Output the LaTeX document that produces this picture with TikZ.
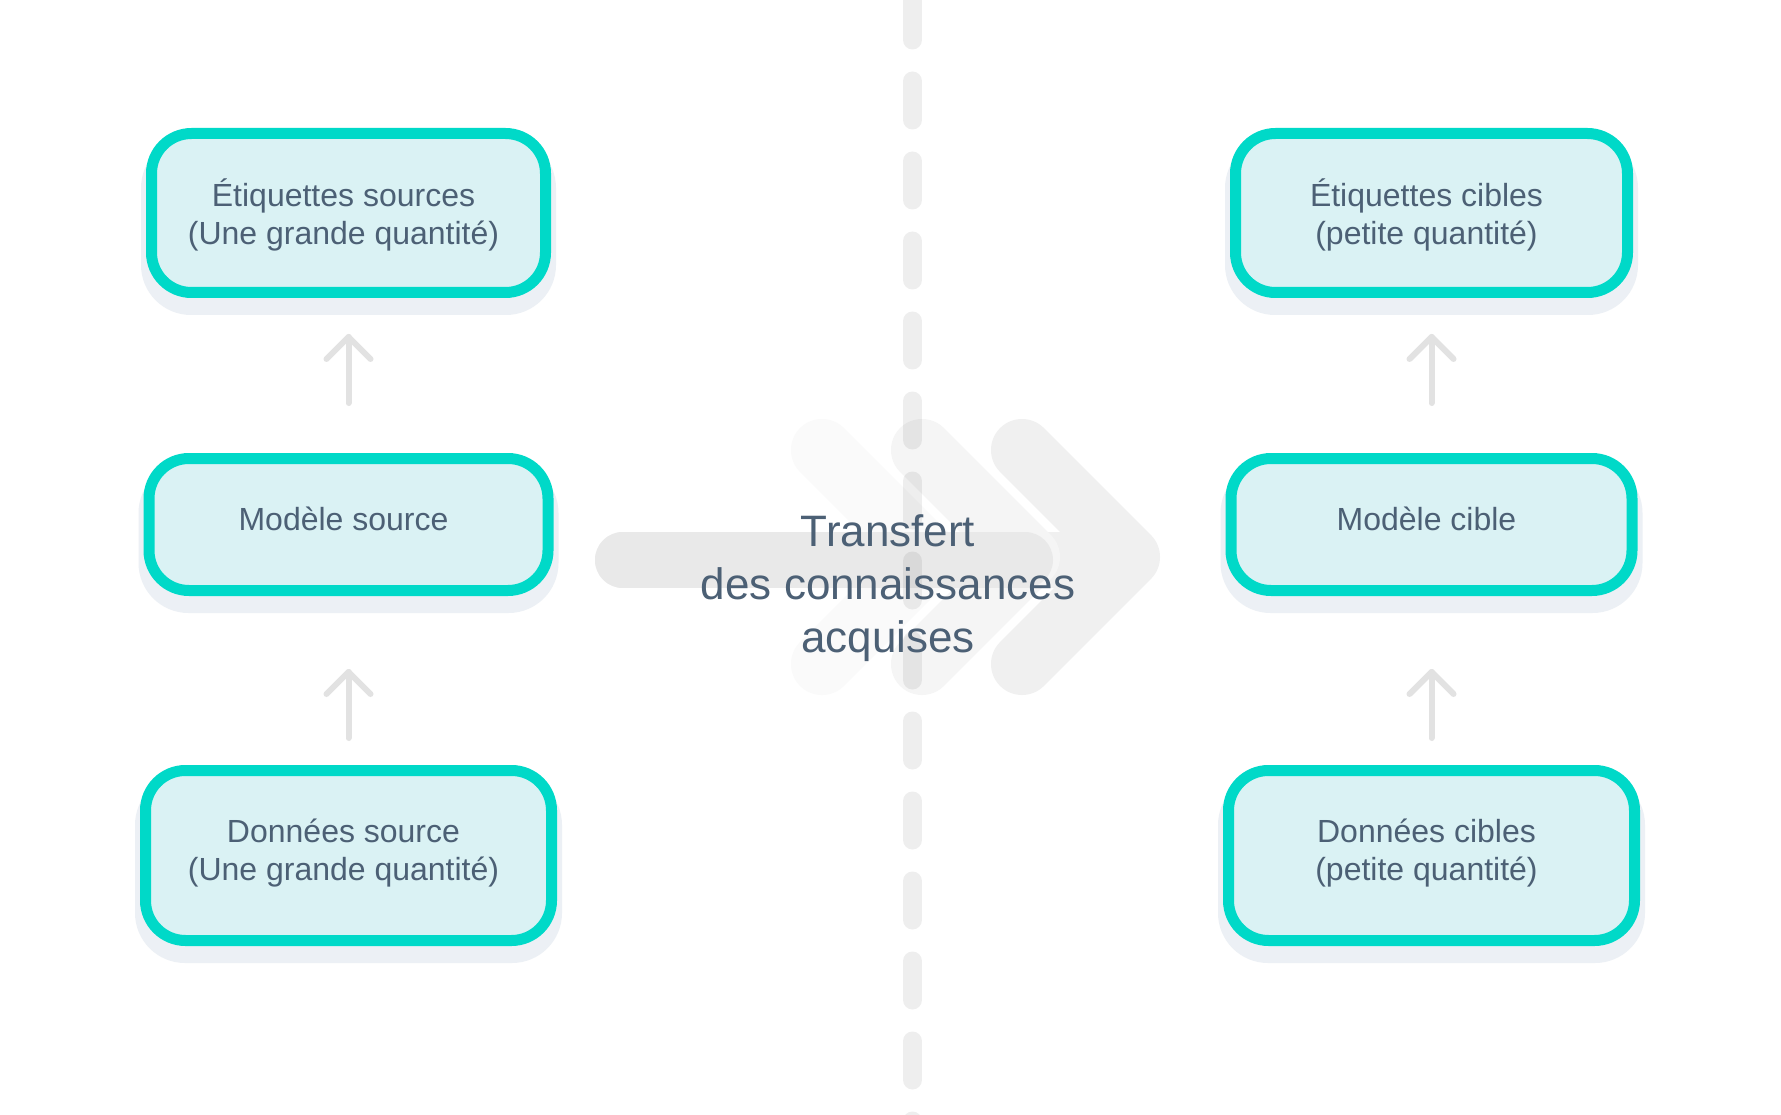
\documentclass[tikz,border=0pt]{standalone}
\usepackage{fontspec}
\setmainfont{Liberation Sans}
\usetikzlibrary{backgrounds}
\definecolor{tealb}{RGB}{0,217,200}
\definecolor{boxfill}{RGB}{218,242,244}
\definecolor{shadowc}{RGB}{236,240,245}
\definecolor{txt}{RGB}{76,96,117}
\definecolor{arrowc}{RGB}{226,226,226}
\definecolor{barc}{RGB}{233,233,233}
\definecolor{chevA}{RGB}{250,250,250}
\definecolor{chevB}{RGB}{245,245,245}
\definecolor{chevC}{RGB}{240,240,240}
\begin{document}
\begin{tikzpicture}[x=1pt,y=-1pt,
  box/.style={draw=tealb, fill=boxfill, line width=11pt, rounded corners=40pt, inner sep=0pt},
  boxtext/.style={align=center, text=txt, font=\fontsize{32}{38}\selectfont, inner sep=0pt},
  boxshadow/.style={fill=shadowc, rounded corners=50pt},
  uparrow/.style={draw=arrowc, line width=6pt, line cap=round, line join=round},
  chevron/.style={line width=62pt, line cap=round, line join=round},
  bar/.style={line width=56pt, line cap=round},
  dashline/.style={draw=black, draw opacity=0.065, line width=19pt, line cap=round, dash pattern=on 39pt off 41pt},
  bigtext/.style={text=txt, font=\fontsize{44}{53}\selectfont, align=center}
]
\useasboundingbox (0,0) rectangle (1781,1115);
\begin{scope}[on background layer]
\fill[white] (0,0) rectangle (1781,1115);
\end{scope}

% central transfer arrow
\draw[bar, draw=chevC] (623,560) -- (1100,560);
\draw[chevron, draw=chevA] (822,450) -- (929,557) -- (822,664);
\draw[chevron, draw=chevB] (922,450) -- (1029,557) -- (922,664);
\draw[chevron, draw=chevC] (1022,450) -- (1129,557) -- (1022,664);
\draw[bar, draw=barc] (623,560) -- (1025,560);

% dashed separator
\draw[dashline] (912.5,1) -- (912.5,1125);

% boxes
\node[box, minimum width=394pt, minimum height=159pt] (b1) at (348.5,213) {};
\node[box, minimum width=399pt, minimum height=132pt] (b2) at (348.5,524.5) {};
\node[box, minimum width=406pt, minimum height=170pt] (b3) at (348.5,855.5) {};
\node[box, minimum width=392pt, minimum height=159pt] (c1) at (1431.5,213) {};
\node[box, minimum width=401pt, minimum height=132pt] (c2) at (1431.5,524.5) {};
\node[box, minimum width=406pt, minimum height=170pt] (c3) at (1431.5,855.5) {};

% box texts
\node[boxtext] (b1t) at ([xshift=-5pt,yshift=-2.3pt]b1.center) {Étiquettes sources\\(Une grande quantité)};
\node[boxtext] (b2t) at ([xshift=-5pt,yshift=5.7pt]b2.center) {Modèle source};
\node[boxtext] (b3t) at ([xshift=-5pt,yshift=2.3pt]b3.center) {Données source\\(Une grande quantité)};
\node[boxtext] (c1t) at ([xshift=-5pt,yshift=-2.3pt]c1.center) {Étiquettes cibles\\(petite quantité)};
\node[boxtext] (c2t) at ([xshift=-5pt,yshift=5.7pt]c2.center) {Modèle cible};
\node[boxtext] (c3t) at ([xshift=-5pt,yshift=2.3pt]c3.center) {Données cibles\\(petite quantité)};

\begin{scope}[on background layer]
\foreach \n in {b1,b2,b3,c1,c2,c3}{
  \fill[boxshadow] ([xshift=-5pt,yshift=-10pt]\n.north west) rectangle ([xshift=5pt,yshift=-17pt]\n.south east);
}
\end{scope}

% up arrows
\coordinate (a1b) at ([yshift=50pt]b2.north);
\coordinate (a1t) at ([yshift=-39pt]b1.south);
\coordinate (a2b) at ([yshift=27pt]b3.north);
\coordinate (a2t) at ([yshift=-76pt]b2.south);
\coordinate (a3b) at ([yshift=50pt]c2.north);
\coordinate (a3t) at ([yshift=-39pt]c1.south);
\coordinate (a4b) at ([yshift=27pt]c3.north);
\coordinate (a4t) at ([yshift=-76pt]c2.south);
\foreach \b/\t in {a1b/a1t,a2b/a2t,a3b/a3t,a4b/a4t}{
  \draw[uparrow] (\b) -- (\t);
  \draw[uparrow] ([shift={(-22pt,-22pt)}]\t) -- (\t) -- ([shift={(22pt,-22pt)}]\t);
}

\node[bigtext] (tr) at (888,588) {Transfert\\des connaissances\\acquises};
\end{tikzpicture}
\end{document}
